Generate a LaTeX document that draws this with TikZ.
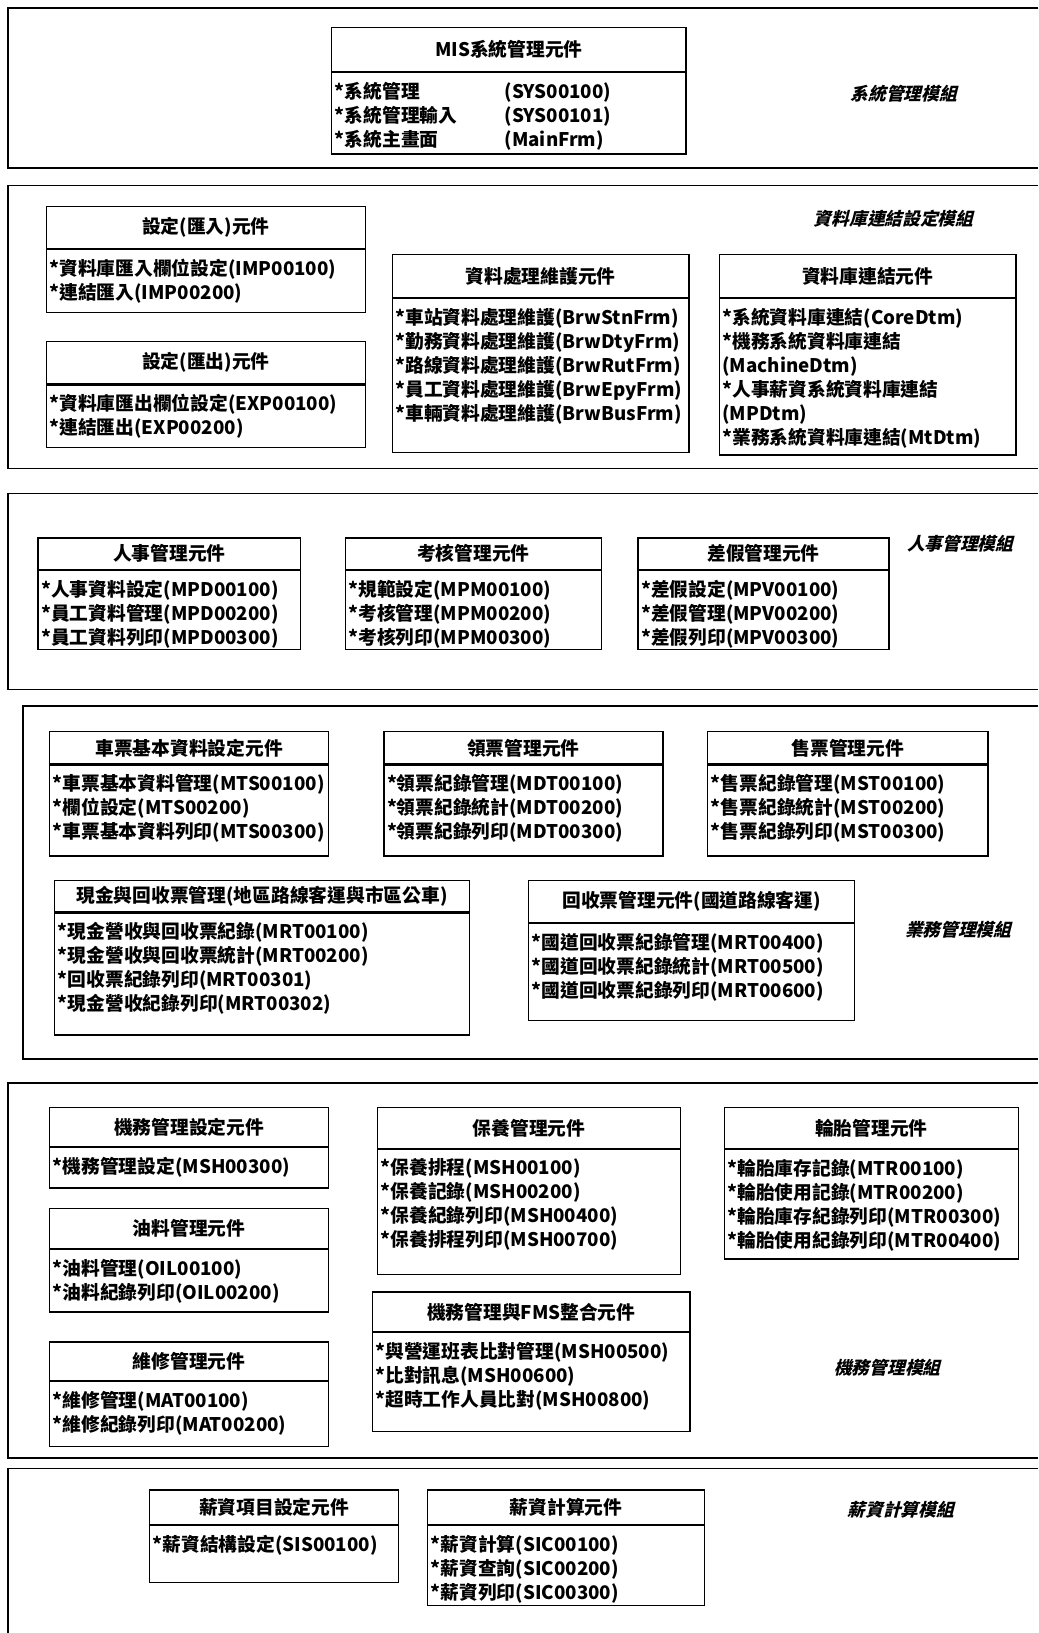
\documentclass[tikz,border=0pt]{standalone}
\usepackage{fontspec}
\newfontfamily\cjk{Noto Sans CJK TC}
\newfontfamily\cjkslant{Noto Sans CJK TC}[FakeSlant=0.25]
\usepackage{tikz}
\usetikzlibrary{positioning}

\tikzset{
  modframe/.style={line width=1.6pt},
  headbox/.style={draw, line width=1.2pt, inner sep=0pt, anchor=north west,
    font=\cjk\bfseries\fontsize{18}{23}\selectfont},
  listbox/.style={draw, line width=1.2pt, inner sep=0pt, anchor=north west,
    font=\cjk\bfseries\fontsize{18}{23}\selectfont},
  modlabel/.style={font=\cjkslant\bfseries\fontsize{17}{20}\selectfont}
}

% component: name, x, y, width, head height, list height, title, items
\newcommand\compbox[8]{%
  \node[headbox, minimum width=#4pt, minimum height=#5pt] (#1) at (#2,#3) {#7};
  \node[listbox] (#1-list) at (#1.south west)
    {\parbox[t][#6pt][t]{#4pt}{\vspace*{9pt}\leftskip=3pt #8}};
}

\begin{document}
\begin{tikzpicture}[x=1pt, y=-1pt]
  \useasboundingbox (0,0) rectangle (997,1568);
  \fill[white] (0,0) rectangle (997,1568);

  % module frames
  \foreach \tp/\bt/\lf in {8/161/8, 178/450/8, 474/662/8, 678/1017/22, 1040/1400/8}{%
    \draw[modframe] (997,\tp) -| (\lf,\bt) -- (997,\bt);
  }
  \draw[modframe] (997,1410) -| (8,1568);

  % system
  \compbox{sys}{318}{26}{340}{42}{78}{MIS系統管理元件}{%
    \makebox[163pt][l]{*系統管理}(SYS00100)\par
    \makebox[163pt][l]{*系統管理輸入}(SYS00101)\par
    \makebox[163pt][l]{*系統主畫面}(MainFrm)}
  \node[modlabel] (lblsys) at (868,90) {系統管理模組};

  % database link
  \compbox{imp}{44}{198}{306}{40}{60}{設定(匯入)元件}{%
    *資料庫匯入欄位設定(IMP00100)\par
    *連結匯入(IMP00200)}
  \compbox{exp}{44}{327}{306}{41}{60}{設定(匯出)元件}{%
    *資料庫匯出欄位設定(EXP00100)\par
    *連結匯出(EXP00200)}
  \compbox{brw}{376}{244}{285}{41}{148}{資料處理維護元件}{%
    *車站資料處理維護(BrwStnFrm)\par
    *勤務資料處理維護(BrwDtyFrm)\par
    *路線資料處理維護(BrwRutFrm)\par
    *員工資料處理維護(BrwEpyFrm)\par
    *車輛資料處理維護(BrwBusFrm)}
  \compbox{dtm}{690}{244}{285}{41}{150}{資料庫連結元件}{%
    *系統資料庫連結(CoreDtm)\par
    *機務系統資料庫連結\par
    (MachineDtm)\par
    *人事薪資系統資料庫連結\par
    (MPDtm)\par
    *業務系統資料庫連結(MtDtm)}
  \node[modlabel] (lbldb) at (858,210) {資料庫連結設定模組};

  % personnel
  \compbox{mpd}{36}{516}{252}{30}{76}{人事管理元件}{%
    *人事資料設定(MPD00100)\par
    *員工資料管理(MPD00200)\par
    *員工資料列印(MPD00300)}
  \compbox{mpm}{331}{516}{246}{30}{76}{考核管理元件}{%
    *規範設定(MPM00100)\par
    *考核管理(MPM00200)\par
    *考核列印(MPM00300)}
  \compbox{mpv}{612}{516}{241}{30}{76}{差假管理元件}{%
    *差假設定(MPV00100)\par
    *差假管理(MPV00200)\par
    *差假列印(MPV00300)}
  \node[modlabel] (lblhr) at (922,522) {人事管理模組};

  % business
  \compbox{mts}{47}{702}{268}{31}{87}{車票基本資料設定元件}{%
    *車票基本資料管理(MTS00100)\par
    *欄位設定(MTS00200)\par
    *車票基本資料列印(MTS00300)}
  \compbox{mdt}{368}{702}{268}{31}{87}{領票管理元件}{%
    *領票紀錄管理(MDT00100)\par
    *領票紀錄統計(MDT00200)\par
    *領票紀錄列印(MDT00300)}
  \compbox{mst}{679}{702}{269}{31}{87}{售票管理元件}{%
    *售票紀錄管理(MST00100)\par
    *售票紀錄統計(MST00200)\par
    *售票紀錄列印(MST00300)}
  \compbox{mrtlocal}{52}{845}{398}{30}{117}{現金與回收票管理(地區路線客運與市區公車)}{%
    *現金營收與回收票紀錄(MRT00100)\par
    *現金營收與回收票統計(MRT00200)\par
    *回收票紀錄列印(MRT00301)\par
    *現金營收紀錄列印(MRT00302)}
  \compbox{mrtnat}{507}{845}{313}{40}{93}{回收票管理元件(國道路線客運)}{%
    *國道回收票紀錄管理(MRT00400)\par
    *國道回收票紀錄統計(MRT00500)\par
    *國道回收票紀錄列印(MRT00600)}
  \node[modlabel] (lblbiz) at (920,893) {業務管理模組};

  % maintenance
  \compbox{mshset}{47}{1063}{268}{37}{39}{機務管理設定元件}{%
    *機務管理設定(MSH00300)}
  \compbox{oil}{47}{1160}{268}{38}{60}{油料管理元件}{%
    *油料管理(OIL00100)\par
    *油料紀錄列印(OIL00200)}
  \compbox{mat}{47}{1288}{268}{37}{62}{維修管理元件}{%
    *維修管理(MAT00100)\par
    *維修紀錄列印(MAT00200)}
  \compbox{mshkeep}{362}{1063}{291}{39}{120}{保養管理元件}{%
    *保養排程(MSH00100)\par
    *保養記錄(MSH00200)\par
    *保養紀錄列印(MSH00400)\par
    *保養排程列印(MSH00700)}
  \compbox{fms}{357}{1240}{305}{38}{95}{機務管理與FMS整合元件}{%
    *與營運班表比對管理(MSH00500)\par
    *比對訊息(MSH00600)\par
    *超時工作人員比對(MSH00800)}
  \compbox{mtr}{695}{1063}{282}{39}{105}{輪胎管理元件}{%
    *輪胎庫存記錄(MTR00100)\par
    *輪胎使用記錄(MTR00200)\par
    *輪胎庫存紀錄列印(MTR00300)\par
    *輪胎使用紀錄列印(MTR00400)}
  \node[modlabel] (lblmech) at (852,1313) {機務管理模組};

  % salary
  \compbox{sis}{143}{1430}{239}{33}{55}{薪資項目設定元件}{%
    *薪資結構設定(SIS00100)}
  \compbox{sic}{410}{1430}{266}{33}{77}{薪資計算元件}{%
    *薪資計算(SIC00100)\par
    *薪資查詢(SIC00200)\par
    *薪資列印(SIC00300)}
  \node[modlabel] (lblpay) at (865,1450) {薪資計算模組};
\end{tikzpicture}
\end{document}
